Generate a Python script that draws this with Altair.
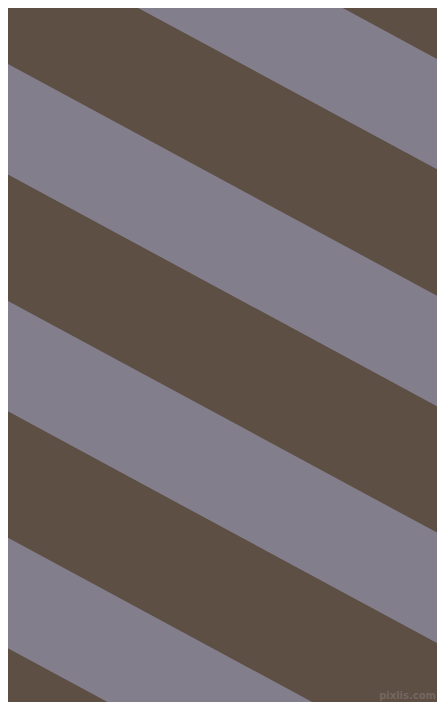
import altair as alt
import pandas as pd

# Stripe bands: boundaries measured at the left edge (x = 0), in image pixels
band_top = [-303.25, -177.1, -66.4, 59.75, 170.45, 296.6, 407.3, 533.45, 644.15]
band_bottom = [-177.1, -66.4, 59.75, 170.45, 296.6, 407.3, 533.45, 644.15, 770.3]
band_kind = ["brown", "gray", "brown", "gray", "brown", "gray", "brown", "gray", "brown"]
slope = 0.54
x_ends = [0, 445]

kinds = ["brown", "gray"]
colors = ["#5E4F45", "#827E8B"]

wm_text = ["pixlis.com"]
wm_x = [436]
wm_y = [701]

rows = []
for i, (t, b, k) in enumerate(zip(band_top, band_bottom, band_kind)):
    for x in x_ends:
        rows.append({"band": i, "kind": k, "x": x, "y": t + slope * x, "y2": b + slope * x})
df = pd.DataFrame(rows)

xs = alt.Scale(domain=[8, 437], nice=False, zero=False)
ys = alt.Scale(domain=[702, 8], nice=False, zero=False)

stripes = alt.Chart(df).mark_area(clip=True, strokeWidth=0).encode(
    x=alt.X("x:Q", scale=xs, axis=None),
    y=alt.Y("y:Q", scale=ys, axis=None, stack=None),
    y2="y2:Q",
    color=alt.Color("kind:N", scale=alt.Scale(domain=kinds, range=colors), legend=None),
    detail="band:N",
)

wm = alt.Chart(pd.DataFrame({"t": wm_text, "x": wm_x, "y": wm_y})).mark_text(
    fontSize=10, font="DejaVu Sans", fontWeight="bold", color="#73675F",
    align="right", baseline="bottom"
).encode(
    x=alt.X("x:Q", scale=xs, axis=None),
    y=alt.Y("y:Q", scale=ys, axis=None),
    text="t:N",
)

chart = alt.layer(stripes, wm).properties(
    width=429, height=694, padding=0, background="#5E4F45"
).configure_view(stroke=None)

chart.save("out.html", embed_options={"renderer": "svg", "actions": False})
